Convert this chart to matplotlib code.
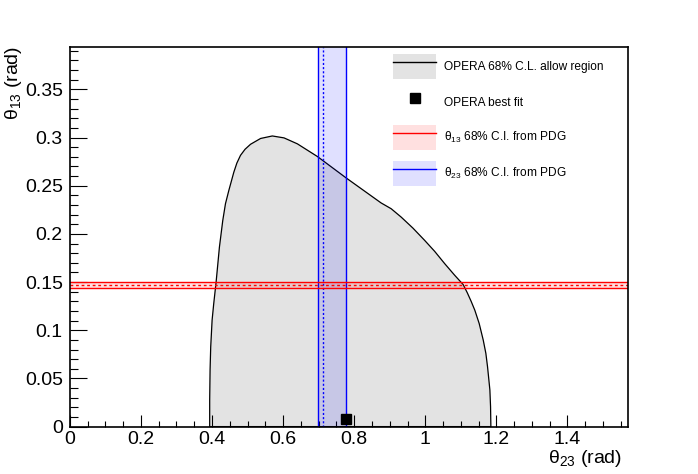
import numpy as np
import matplotlib
matplotlib.use('Agg')
import matplotlib.pyplot as plt
from matplotlib.patches import Patch
from matplotlib.lines import Line2D
from matplotlib.legend_handler import HandlerTuple

plt.rcParams['font.family'] = ['Liberation Sans', 'DejaVu Sans']
plt.rcParams['mathtext.fontset'] = 'custom'
plt.rcParams['mathtext.rm'] = 'Liberation Sans'
plt.rcParams['mathtext.it'] = 'Liberation Sans:italic'
plt.rcParams['mathtext.default'] = 'regular'

# =========================
# DATA
# =========================
# OPERA 68% C.L. allowed contour, theta23 / theta13 (rad)
contour_t23 = [0.3935, 0.3935, 0.3946, 0.3964, 0.4003, 0.4049, 0.4116, 0.4209,
               0.4303, 0.4379, 0.4473, 0.4614, 0.4700, 0.4802, 0.4930, 0.5085,
               0.5367, 0.5697, 0.6026, 0.6403, 0.6968, 0.7768, 0.8757, 0.9040,
               0.9322, 0.9652, 0.9981, 1.0263, 1.0546, 1.0828, 1.1065, 1.1180,
               1.1290, 1.1393, 1.1516, 1.1630, 1.1704, 1.1751, 1.1789, 1.1817,
               1.1836, 1.1845]
contour_t13 = [0.0, 0.0276, 0.0587, 0.0828, 0.1105, 0.1277, 0.1501, 0.1863,
               0.2139, 0.2313, 0.2450, 0.2640, 0.2735, 0.2815, 0.2878, 0.2930,
               0.2990, 0.3016, 0.2996, 0.2934, 0.2802, 0.2582, 0.2321, 0.2261,
               0.2174, 0.2060, 0.1933, 0.1819, 0.1691, 0.1570, 0.1474, 0.1390,
               0.1300, 0.1208, 0.1070, 0.0898, 0.0760, 0.0621, 0.0483, 0.0380,
               0.0207, 0.0]

best_fit_t23 = 0.777
best_fit_t13 = 0.008

# PDG 68% intervals
pdg_t13 = [0.1443, 0.1474, 0.1505]   # low, central, high
pdg_t23 = [0.697, 0.712, 0.776]

x_max = np.pi / 2
y_max = 0.3935

# =========================
# FIGURE
# =========================
fig = plt.figure(figsize=(6.98, 4.74), dpi=100)
ax = fig.add_axes([0.1, 0.1, 0.8, 0.8])

ax.fill(contour_t23, contour_t13, facecolor='#e3e3e3', edgecolor='black',
        linewidth=0.9, joinstyle='round', zorder=1)

# theta23 band
ax.axvspan(pdg_t23[0], pdg_t23[2], color=(0, 0, 1), alpha=0.12, lw=0, zorder=2)
ax.axvline(pdg_t23[0], color='blue', lw=1.0, zorder=3)
ax.axvline(pdg_t23[2], color='blue', lw=1.0, zorder=3)
ax.axvline(pdg_t23[1], color='blue', lw=1.0, ls=(0, (1.5, 1.5)), zorder=3)

# theta13 band
ax.axhspan(pdg_t13[0], pdg_t13[2], color=(1, 0, 0), alpha=0.12, lw=0, zorder=4)
ax.axhline(pdg_t13[0], color='red', lw=1.0, zorder=5)
ax.axhline(pdg_t13[2], color='red', lw=1.0, zorder=5)
ax.axhline(pdg_t13[1], color='red', lw=1.0, ls=(0, (2, 2)), zorder=5)

ax.plot([best_fit_t23], [best_fit_t13], 's', color='black', ms=6.5,
        zorder=6, clip_on=False)

ax.set_xlim(0, x_max)
ax.set_ylim(0, y_max)

ax.set_xticks(np.arange(0, 1.41, 0.2))
ax.set_xticklabels(['0', '0.2', '0.4', '0.6', '0.8', '1', '1.2', '1.4'])
ax.set_xticks(np.arange(0, 1.58, 0.05), minor=True)
ax.set_yticks(np.arange(0, 0.36, 0.05))
ax.set_yticklabels(['0', '0.05', '0.1', '0.15', '0.2', '0.25', '0.3', '0.35'])
ax.set_yticks(np.arange(0, 0.391, 0.01), minor=True)

ax.tick_params(axis='both', which='both', direction='in', top=False,
               right=False, width=0.8, labelsize=14, colors='black')
ax.tick_params(axis='x', which='major', length=8.6, pad=3)
ax.tick_params(axis='x', which='minor', length=4.3)
ax.tick_params(axis='y', which='major', length=12.2, pad=5)
ax.tick_params(axis='y', which='minor', length=6.1)
for spine in ax.spines.values():
    spine.set_linewidth(1.2)
    spine.set_zorder(10)

fig.text(622 / 698, 1 - 463 / 474, r'θ$_{23}$ (rad)', fontsize=14,
         ha='right', va='baseline')
fig.text(14 / 698, 1 - 46 / 474, r'θ$_{13}$ (rad)', fontsize=14,
         rotation=90, ha='center', va='top')

# =========================
# LEGEND
# =========================
handles = [
    (Patch(facecolor='#e3e3e3', edgecolor='none'), Line2D([], [], color='black', lw=1.0)),
    Line2D([], [], marker='s', color='black', ls='none', ms=6.5),
    (Patch(facecolor=(1, 0, 0), alpha=0.12, edgecolor='none'), Line2D([], [], color='red', lw=1.0)),
    (Patch(facecolor=(0, 0, 1), alpha=0.12, edgecolor='none'), Line2D([], [], color='blue', lw=1.0)),
]
labels = ['OPERA 68% C.L. allow region', 'OPERA best fit',
          r'θ$_{13}$ 68% C.I. from PDG', r'θ$_{23}$ 68% C.I. from PDG']
fig.legend(handles, labels, loc='upper left',
           bbox_to_anchor=(393 / 698, 1 - 54 / 474),
           frameon=False, fontsize=8.6, borderpad=0, borderaxespad=0,
           handlelength=3.6, handleheight=2.8, handletextpad=0.7,
           labelspacing=0.92,
           handler_map={tuple: HandlerTuple(ndivide=1, pad=0)})

plt.savefig('out.png', dpi=100)
plt.close()
